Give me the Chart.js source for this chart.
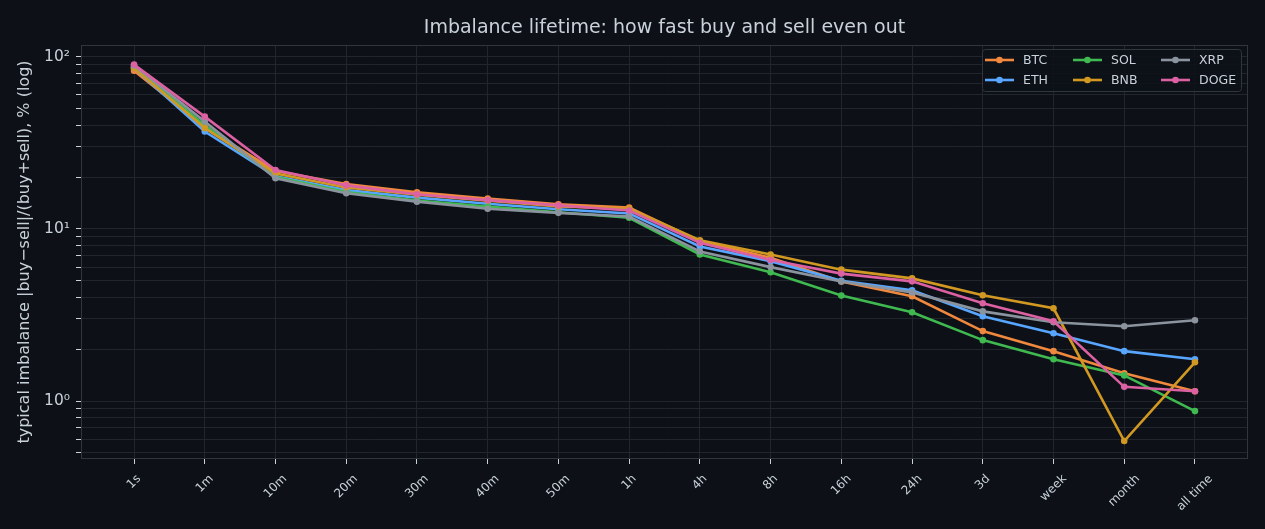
<!DOCTYPE html>
<html>
<head>
<meta charset="utf-8">
<script src="https://cdn.jsdelivr.net/npm/chart.js@4.4.1/dist/chart.umd.min.js"></script>
<style>
html, body { margin: 0; padding: 0; background: #0d1117; }
#wrap { width: 1265px; height: 529px; position: relative; }
</style>
</head>
<body>
<div id="wrap"><canvas id="chart"></canvas></div>
<script>
// horizons and typical imbalance (%) per coin
var horizons = ['1s','1m','10m','20m','30m','40m','50m','1h','4h','8h','16h','24h','3d','week','month','all time'];
var btc  = [83, 39, 21.7, 18.2, 16.3, 15.0, 13.9, 13.3, 8.5, 6.8, 4.95, 4.06, 2.55, 1.95, 1.45, 1.14];
var eth  = [86, 36.8, 20.2, 16.8, 15.2, 14.0, 13.0, 12.3, 7.9, 6.5, 5.0, 4.40, 3.11, 2.48, 1.95, 1.75];
var sol  = [87, 40, 20.0, 16.4, 14.6, 13.5, 12.5, 11.6, 7.1, 5.6, 4.1, 3.28, 2.26, 1.75, 1.41, 0.875];
var bnb  = [86, 38.5, 21.0, 17.4, 15.8, 14.6, 13.5, 13.1, 8.6, 7.1, 5.8, 5.16, 4.12, 3.46, 0.586, 1.68];
var xrp  = [89, 42, 19.7, 16.1, 14.4, 13.1, 12.4, 11.8, 7.4, 6.0, 4.95, 4.28, 3.32, 2.87, 2.72, 2.95];
var doge = [90, 44.9, 22.0, 17.9, 15.9, 14.7, 13.7, 12.8, 8.3, 6.6, 5.5, 4.96, 3.70, 2.91, 1.21, 1.14];

var coins = ['BTC', 'ETH', 'SOL', 'BNB', 'XRP', 'DOGE'];
var series = [btc, eth, sol, bnb, xrp, doge];
var colors = ['#f0883e', '#58a6ff', '#3fb950', '#d29922', '#8b949e', '#db61a2'];

var textColor = '#c9d1d9';
var gridColor = '#21262d';
var spineColor = '#30363d';
var fontFamily = '"DejaVu Sans", sans-serif';

Chart.defaults.font.family = fontFamily;
Chart.defaults.color = textColor;

var datasets = coins.map(function (name, k) {
  return {
    label: name,
    data: series[k].map(function (v, i) { return { x: i, y: v }; }),
    borderColor: colors[k],
    backgroundColor: colors[k],
    pointBackgroundColor: colors[k],
    pointBorderWidth: 0,
    pointRadius: 3.3,
    borderWidth: 2.6,
    order: coins.length - k
  };
});

var superDigits = { '0': '\u2070', '1': '\u00b9', '2': '\u00b2', '3': '\u00b3' };

// spines + rotated x labels + in-plot legend
var decorations = {
  id: 'decorations',
  afterDraw: function (chart) {
    var ctx = chart.ctx;
    var a = chart.chartArea;
    ctx.save();
    ctx.strokeStyle = spineColor;
    ctx.lineWidth = 1;
    ctx.strokeRect(a.left + 0.5, a.top + 0.5, a.right - a.left - 1, a.bottom - a.top - 1);

    // x labels, centred under the ticks like matplotlib
    var xs = chart.scales.x;
    ctx.font = '12px ' + fontFamily;
    ctx.fillStyle = textColor;
    ctx.textAlign = 'center';
    ctx.textBaseline = 'middle';
    horizons.forEach(function (lab, i) {
      var x = xs.getPixelForValue(i);
      var w = ctx.measureText(lab).width;
      var h = (w + 14) * Math.SQRT1_2;
      ctx.save();
      ctx.translate(x, a.bottom + 13 + h / 2);
      ctx.rotate(-Math.PI / 4);
      ctx.fillText(lab, 0, 0);
      ctx.restore();
    });

    // legend box
    var bx = 982, by = 49, bw = 259, bh = 42;
    ctx.fillStyle = 'rgba(13,17,23,0.85)';
    ctx.strokeStyle = spineColor;
    ctx.beginPath();
    ctx.roundRect(bx + 0.5, by + 0.5, bw, bh, 3);
    ctx.fill();
    ctx.stroke();
    var colX = [985, 1073, 1161];
    var rowY = [60, 80];
    ctx.textAlign = 'left';
    ctx.font = '12.5px ' + fontFamily;
    chart.data.datasets.forEach(function (ds, k) {
      var cx = colX[Math.floor(k / 2)];
      var cy = rowY[k % 2];
      ctx.strokeStyle = ds.borderColor;
      ctx.lineWidth = 2.6;
      ctx.beginPath();
      ctx.moveTo(cx, cy);
      ctx.lineTo(cx + 29, cy);
      ctx.stroke();
      ctx.fillStyle = ds.borderColor;
      ctx.beginPath();
      ctx.arc(cx + 14.5, cy, 3.3, 0, Math.PI * 2);
      ctx.fill();
      ctx.fillStyle = textColor;
      ctx.fillText(ds.label, cx + 38, cy + 1);
    });
    ctx.restore();
  }
};

new Chart(document.getElementById('chart'), {
  type: 'line',
  data: { datasets: datasets },
  plugins: [decorations],
  options: {
    responsive: true,
    maintainAspectRatio: false,
    animation: false,
    layout: { padding: { left: 0, right: 17, top: 0, bottom: 65 } },
    plugins: {
      legend: { display: false },
      tooltip: { enabled: false },
      title: {
        display: true,
        fullSize: false,
        text: 'Imbalance lifetime: how fast buy and sell even out',
        color: textColor,
        font: { size: 19, weight: 'normal' },
        padding: { top: 17, bottom: 5.2 }
      }
    },
    scales: {
      x: {
        type: 'linear',
        min: -0.75,
        max: 15.75,
        afterBuildTicks: function (scale) {
          scale.ticks = horizons.map(function (_, i) { return { value: i }; });
        },
        ticks: { display: false },
        grid: { color: gridColor, tickColor: textColor, tickLength: 5, drawTicks: true },
        border: { display: false }
      },
      y: {
        type: 'logarithmic',
        min: 0.461,
        max: 117,
        afterBuildTicks: function (scale) {
          var t = [];
          for (var e = -1; e <= 2; e++) {
            for (var m = 1; m <= 9; m++) {
              var v = m * Math.pow(10, e);
              if (v >= 0.5 && v <= 100) t.push({ value: v });
            }
          }
          scale.ticks = t;
        },
        afterFit: function (scale) { scale.width = 81; },
        ticks: {
          autoSkip: false,
          padding: 6,
          color: textColor,
          font: { size: 15.5 },
          callback: function (v) {
            var lg = Math.log10(v);
            if (Math.abs(lg - Math.round(lg)) < 1e-9) {
              return '10' + superDigits[String(Math.round(lg))];
            }
            return '';
          }
        },
        grid: { color: gridColor, tickColor: textColor, tickLength: 5 },
        border: { display: false },
        title: {
          display: true,
          text: 'typical imbalance |buy\u2212sell|/(buy+sell), % (log)',
          color: textColor,
          font: { size: 16 },
          padding: { top: 15.4, bottom: 0 }
        }
      }
    }
  }
});
</script>
</body>
</html>
